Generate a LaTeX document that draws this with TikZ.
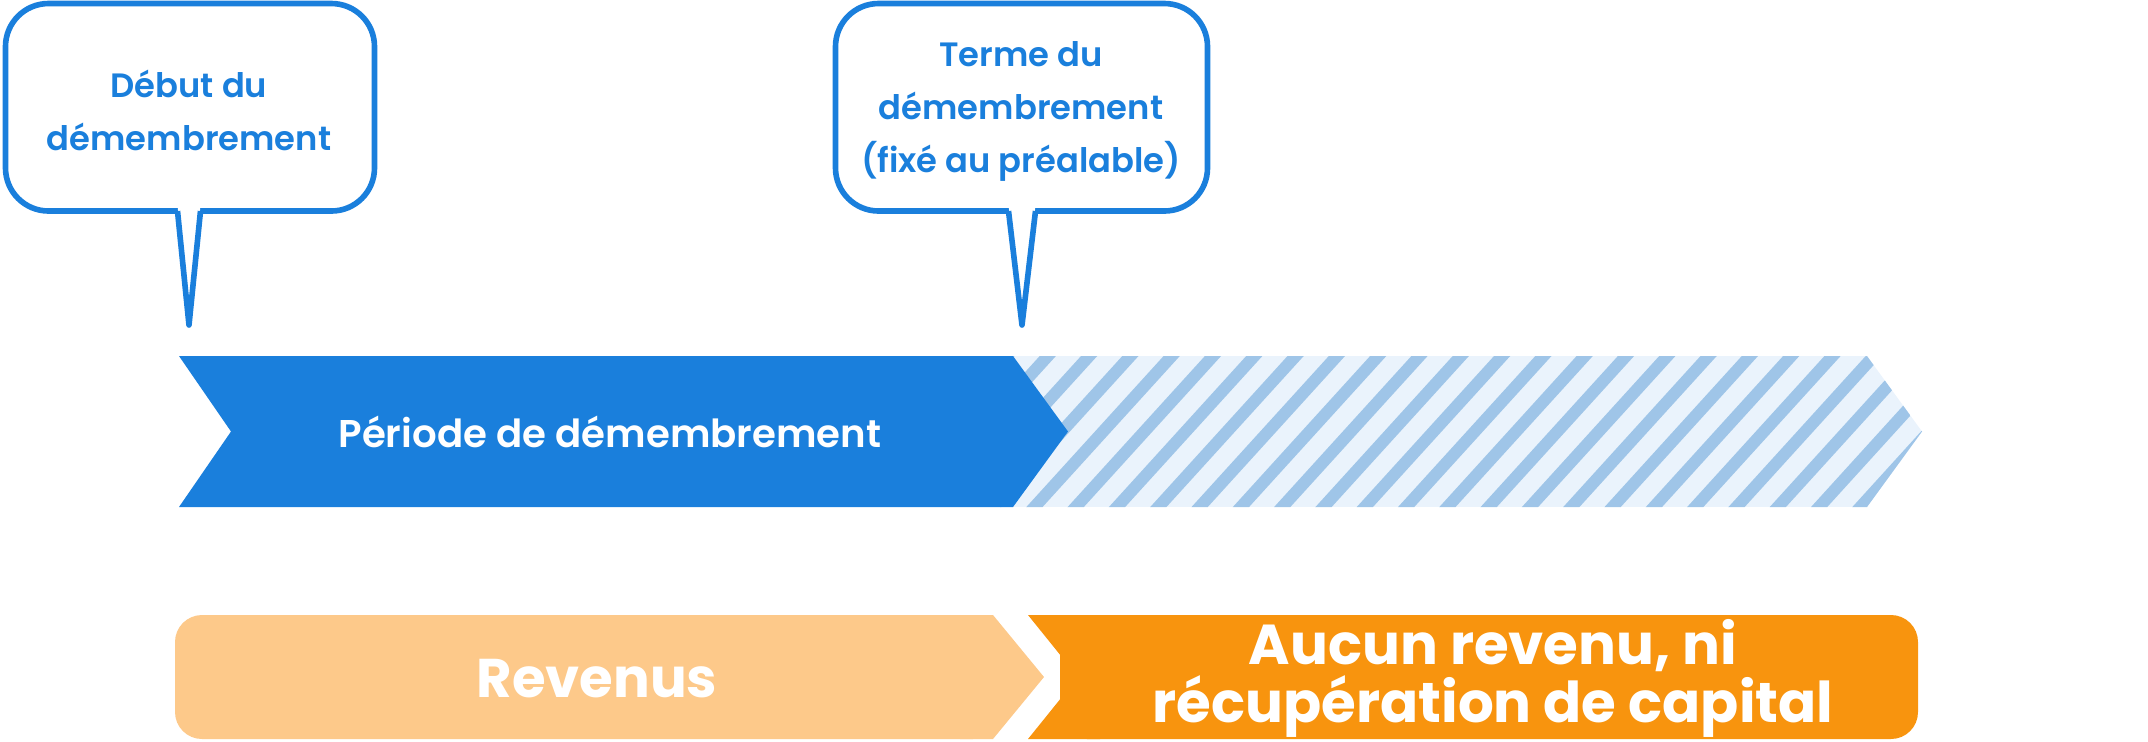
\documentclass[tikz,border=0pt]{standalone}
\usepackage{fontspec}
\setmainfont{Poppins}
\newfontfamily\moyen{Poppins SemiBold}
\definecolor{bleu}{HTML}{1A7FDC}
\definecolor{bleupale}{HTML}{EAF3FC}
\definecolor{raie}{HTML}{9FC5E8}
\definecolor{orclair}{HTML}{FDC98A}
\definecolor{orfonce}{HTML}{F8940E}
\tikzset{bulle/.style={draw=bleu,line width=1.6pt,fill=white,rounded corners=0.43cm},
	queue/.style={draw=bleu,line width=1.6pt,line join=round},
	txtbulle/.style={text=bleu,align=center,font=\moyen\fontsize{9.6}{15}\selectfont},
	txtbarre/.style={text=white,align=center,font=\bfseries\fontsize{16}{15.4}\selectfont}}
\begin{document}
\begin{tikzpicture}[x=0.01cm,y=-0.01cm]
		\useasboundingbox (0,0) rectangle (2148,741);
		\def\ha{356} \def\hb{507} \def\hm{431.5}
		\draw[bulle] (5.5,3.5) rectangle (374.5,211);
		\draw[bulle] (835.5,3.5) rectangle (1207.5,211);
		\path (189,325)coordinate(A) (1022,325)coordinate(B);
		\foreach \xa/\xb/\p in {177.5/200.5/A,1008.5/1035.5/B}{
			\fill[white] (\xa,205)--(\p)--(\xb,205)--cycle;
			\draw[queue] (\xa,211)--(\p)--(\xb,211);}
		\node[txtbulle,anchor=base] (debut) at (189,150) {Début du\\démembrement};
		\node[txtbulle,anchor=base] (terme) at (1021,172) {Terme du\\démembrement\\(fixé au préalable)};
		\begin{scope}
			\clip (1000,\ha)--(1867,\ha)--(1922,\hm)--(1867,\hb)--(1000,\hb)--cycle;
			\fill[bleupale] (1000,\ha) rectangle (1922,\hb);
			\foreach \k in {-9,...,19} \draw[raie,line width=0.12cm] ({1146+41.3*\k},566)--++(300,-330);
		\end{scope}
		\fill[bleu] (179,\ha)--(1013,\ha)--(1068,\hm)--(1013,\hb)--(179,\hb)--(231,\hm)--cycle;
		\node[text=white,font=\moyen\fontsize{11}{14}\selectfont,anchor=base] (periode) at (610,447) {Période de démembrement};
		\fill[orclair,rounded corners=0.27cm] (175,615) rectangle (1000,739);
		\fill[orclair] (960,615)--(993,615)--(1044,677)--(993,739)--(960,739)--cycle;
		\fill[orfonce,rounded corners=0.27cm] (1060,615) rectangle (1918,739);
		\fill[orfonce] (1028,615)--(1100,615)--(1100,739)--(1028,739)--(1078,677)--cycle;
		\node[txtbarre,anchor=base,font=\bfseries\fontsize{15.5}{15.4}\selectfont] (revenus) at (597,697) {Revenus};
		\node[txtbarre,anchor=base] (aucun) at (1493,722) {Aucun revenu, ni\\récupération de capital};
\end{tikzpicture}
\end{document}
